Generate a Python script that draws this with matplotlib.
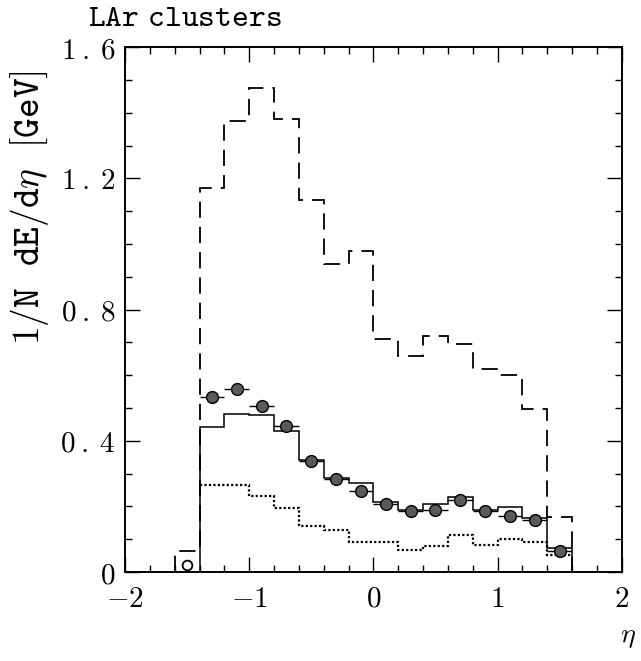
import matplotlib
matplotlib.use("Agg")
import matplotlib.pyplot as plt
from matplotlib.ticker import MultipleLocator, FuncFormatter

# ── Data ─────────────────────────────────────────────────────────────────────
# bin edges in eta (0.2 wide)
edges_dashed = [-1.6, -1.4, -1.2, -1.0, -0.8, -0.6, -0.4, -0.2, 0.0,
                0.2, 0.4, 0.6, 0.8, 1.0, 1.2, 1.4, 1.6]
edges_main = edges_dashed[1:]

dashed_vals = [0.065, 1.17, 1.375, 1.475, 1.38, 1.135, 0.94, 0.98, 0.71,
               0.66, 0.72, 0.695, 0.62, 0.60, 0.497, 0.167]
solid_vals = [0.442, 0.482, 0.478, 0.430, 0.341, 0.286, 0.270, 0.214,
              0.189, 0.207, 0.228, 0.189, 0.199, 0.164, 0.072]
dotted_vals = [0.265, 0.265, 0.232, 0.195, 0.140, 0.128, 0.092, 0.092,
               0.066, 0.079, 0.113, 0.082, 0.100, 0.092, 0.052]

eta_pts = [-1.3, -1.1, -0.9, -0.7, -0.5, -0.3, -0.1, 0.1,
           0.3, 0.5, 0.7, 0.9, 1.1, 1.3, 1.5]
data_pts = [0.534, 0.558, 0.505, 0.445, 0.340, 0.284, 0.248, 0.207,
            0.187, 0.190, 0.220, 0.186, 0.171, 0.159, 0.065]
eta_open = [-1.5]
data_open = [0.02]
half_bin = 0.1

# ── Figure ───────────────────────────────────────────────────────────────────
plt.rcParams["mathtext.fontset"] = "cm"


def tt(s):
    # typewriter text via the Computer Modern mathtext fonts
    s = s.replace(" ", r"\ ").replace(".", r"\:.\:")
    return r"$\mathtt{" + s + "}$"


fig = plt.figure(figsize=(6.41, 6.61), dpi=100)
ax = fig.add_axes([0.195, 0.1346, 0.775, 0.794])

ax.stairs(dashed_vals, edges_dashed, baseline=0, color="black", lw=1.3,
          linestyle=(0, (9, 5)))
ax.stairs(solid_vals, edges_main, baseline=0, color="black", lw=1.1)
ax.stairs(dotted_vals, edges_main, baseline=None, color="black", lw=1.6,
          linestyle=(0, (1.0, 1.0)))

ax.errorbar(eta_pts, data_pts, xerr=half_bin, fmt="o", ms=8.5,
            mfc="#5a5a5a", mec="black", mew=1.0, ecolor="black",
            elinewidth=1.0, capsize=0, zorder=5)
ax.errorbar(eta_open, data_open, xerr=0.04, fmt="o", ms=7,
            mfc="white", mec="black", mew=1.3, ecolor="black",
            elinewidth=1.0, capsize=0, zorder=5)

ax.set_xlim(-2, 2)
ax.set_ylim(0, 1.6)
ax.xaxis.set_major_locator(MultipleLocator(1))
ax.xaxis.set_minor_locator(MultipleLocator(0.2))
ax.yaxis.set_major_locator(MultipleLocator(0.4))
ax.yaxis.set_minor_locator(MultipleLocator(0.1))
ax.xaxis.set_major_formatter(FuncFormatter(lambda v, p: tt(f"{v:.0f}")))
ax.yaxis.set_major_formatter(
    FuncFormatter(lambda v, p: tt("0" if v == 0 else f"{v:.1f}")))

ax.tick_params(which="both", direction="in", top=True, right=True,
               width=1.0, labelsize=21)
ax.tick_params(axis="x", pad=9)
ax.tick_params(axis="y", pad=7)
ax.tick_params(which="major", length=11)
ax.tick_params(which="minor", length=5)
for spine in ax.spines.values():
    spine.set_linewidth(1.4)

fig.text(88 / 641, 1 - 18 / 661, tt("LAr clusters"), fontsize=23,
         ha="left", va="center")
fig.text(30 / 641, 1 - 208 / 661,
         r"$\mathtt{1/N\ \ dE/d}\eta\ \ \mathtt{[GeV]}$",
         fontsize=27, rotation=90, ha="center", va="center")
fig.text(628 / 641, 1 - 636 / 661, r"$\eta$", fontsize=20, ha="center",
         va="center")

fig.savefig("out.png", dpi=100)
